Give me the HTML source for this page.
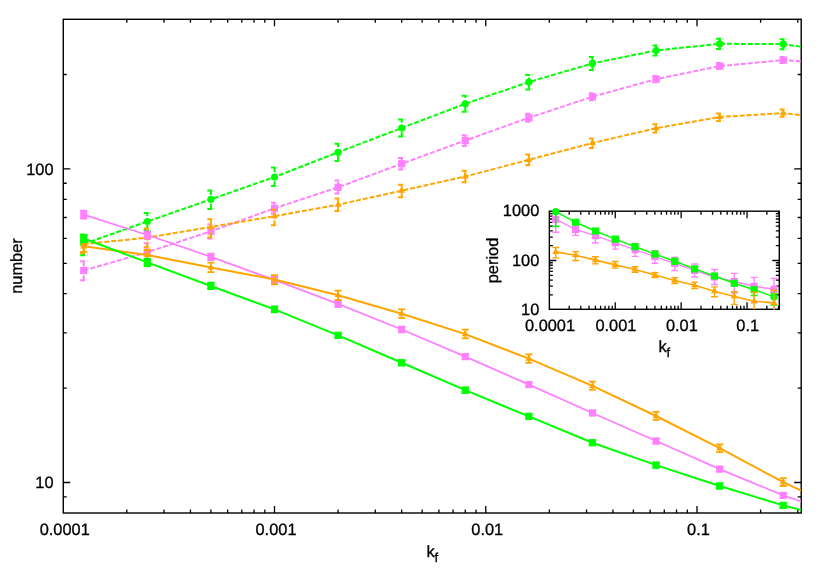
<!DOCTYPE html>
<html><head><meta charset="utf-8"><title>plot</title>
<style>html,body{margin:0;padding:0;background:#fff;}body{width:830px;height:581px;position:relative;overflow:hidden;font-family:"Liberation Sans",sans-serif;}</style>
</head><body>
<svg width="830" height="581" viewBox="0 0 830 581" style="position:absolute;left:0;top:0">
<defs><clipPath id="cm"><rect x="63.25" y="19.30" width="737.95" height="493.70"/></clipPath>
<clipPath id="ci"><rect x="549.35" y="211.2" width="230.05" height="98.2"/></clipPath></defs>
<rect width="830" height="581" fill="#fff"/>
<path d="M126.84 513.00v-3.50M126.84 19.30v3.50M164.04 513.00v-3.50M164.04 19.30v3.50M190.44 513.00v-3.50M190.44 19.30v3.50M210.91 513.00v-3.50M210.91 19.30v3.50M227.63 513.00v-3.50M227.63 19.30v3.50M241.78 513.00v-3.50M241.78 19.30v3.50M254.03 513.00v-3.50M254.03 19.30v3.50M264.83 513.00v-3.50M264.83 19.30v3.50M274.50 513.00v-7.00M274.50 19.30v7.00M338.09 513.00v-3.50M338.09 19.30v3.50M375.29 513.00v-3.50M375.29 19.30v3.50M401.69 513.00v-3.50M401.69 19.30v3.50M422.16 513.00v-3.50M422.16 19.30v3.50M438.88 513.00v-3.50M438.88 19.30v3.50M453.03 513.00v-3.50M453.03 19.30v3.50M465.28 513.00v-3.50M465.28 19.30v3.50M476.08 513.00v-3.50M476.08 19.30v3.50M485.75 513.00v-7.00M485.75 19.30v7.00M549.34 513.00v-3.50M549.34 19.30v3.50M586.54 513.00v-3.50M586.54 19.30v3.50M612.94 513.00v-3.50M612.94 19.30v3.50M633.41 513.00v-3.50M633.41 19.30v3.50M650.13 513.00v-3.50M650.13 19.30v3.50M664.28 513.00v-3.50M664.28 19.30v3.50M676.53 513.00v-3.50M676.53 19.30v3.50M687.33 513.00v-3.50M687.33 19.30v3.50M697.00 513.00v-7.00M697.00 19.30v7.00M760.59 513.00v-3.50M760.59 19.30v3.50M797.79 513.00v-3.50M797.79 19.30v3.50M63.25 496.85h3.50M801.20 496.85h-3.50M63.25 482.50h7.00M801.20 482.50h-7.00M63.25 388.10h3.50M801.20 388.10h-3.50M63.25 332.87h3.50M801.20 332.87h-3.50M63.25 293.69h3.50M801.20 293.69h-3.50M63.25 263.30h3.50M801.20 263.30h-3.50M63.25 238.47h3.50M801.20 238.47h-3.50M63.25 217.48h3.50M801.20 217.48h-3.50M63.25 199.29h3.50M801.20 199.29h-3.50M63.25 183.25h3.50M801.20 183.25h-3.50M63.25 168.90h7.00M801.20 168.90h-7.00M63.25 74.50h3.50M801.20 74.50h-3.50" stroke="#000" stroke-width="1.3" fill="none"/>
<rect x="63.25" y="19.30" width="737.95" height="493.70" fill="none" stroke="#000" stroke-width="1.4"/>
<g clip-path="url(#cm)">
<polyline points="83.72,243.90 147.31,221.50 210.91,199.35 274.50,177.00 338.09,152.30 401.69,128.00 465.28,103.80 528.87,82.00 592.46,63.40 656.06,50.50 719.65,43.80 783.24,44.10 801.20,46.70" fill="none" stroke="#00ff00" stroke-width="2" stroke-dasharray="4.9 2"/>
<path d="M83.72 255.20V234.60" stroke="#00ff00" stroke-width="2" fill="none" stroke-dasharray="4.9 2"/>
<path d="M80.12 234.60H87.32" stroke="#00ff00" stroke-width="2" fill="none" stroke-dasharray="4.9 2"/>
<path d="M80.12 255.20H87.32" stroke="#00ff00" stroke-width="2" fill="none" stroke-dasharray="4.9 2"/>
<path d="M147.31 230.00V213.00" stroke="#00ff00" stroke-width="2" fill="none" stroke-dasharray="4.9 2"/>
<path d="M143.71 213.00H150.91" stroke="#00ff00" stroke-width="2" fill="none" stroke-dasharray="4.9 2"/>
<path d="M143.71 230.00H150.91" stroke="#00ff00" stroke-width="2" fill="none" stroke-dasharray="4.9 2"/>
<path d="M210.91 208.90V190.60" stroke="#00ff00" stroke-width="2" fill="none" stroke-dasharray="4.9 2"/>
<path d="M207.31 190.60H214.51" stroke="#00ff00" stroke-width="2" fill="none" stroke-dasharray="4.9 2"/>
<path d="M207.31 208.90H214.51" stroke="#00ff00" stroke-width="2" fill="none" stroke-dasharray="4.9 2"/>
<path d="M274.50 186.10V167.50" stroke="#00ff00" stroke-width="2" fill="none" stroke-dasharray="4.9 2"/>
<path d="M270.90 167.50H278.10" stroke="#00ff00" stroke-width="2" fill="none" stroke-dasharray="4.9 2"/>
<path d="M270.90 186.10H278.10" stroke="#00ff00" stroke-width="2" fill="none" stroke-dasharray="4.9 2"/>
<path d="M338.09 160.90V143.70" stroke="#00ff00" stroke-width="2" fill="none" stroke-dasharray="4.9 2"/>
<path d="M334.49 143.70H341.69" stroke="#00ff00" stroke-width="2" fill="none" stroke-dasharray="4.9 2"/>
<path d="M334.49 160.90H341.69" stroke="#00ff00" stroke-width="2" fill="none" stroke-dasharray="4.9 2"/>
<path d="M401.69 136.50V119.60" stroke="#00ff00" stroke-width="2" fill="none" stroke-dasharray="4.9 2"/>
<path d="M398.09 119.60H405.29" stroke="#00ff00" stroke-width="2" fill="none" stroke-dasharray="4.9 2"/>
<path d="M398.09 136.50H405.29" stroke="#00ff00" stroke-width="2" fill="none" stroke-dasharray="4.9 2"/>
<path d="M465.28 111.80V95.80" stroke="#00ff00" stroke-width="2" fill="none" stroke-dasharray="4.9 2"/>
<path d="M461.68 95.80H468.88" stroke="#00ff00" stroke-width="2" fill="none" stroke-dasharray="4.9 2"/>
<path d="M461.68 111.80H468.88" stroke="#00ff00" stroke-width="2" fill="none" stroke-dasharray="4.9 2"/>
<path d="M528.87 89.40V75.10" stroke="#00ff00" stroke-width="2" fill="none" stroke-dasharray="4.9 2"/>
<path d="M525.27 75.10H532.47" stroke="#00ff00" stroke-width="2" fill="none" stroke-dasharray="4.9 2"/>
<path d="M525.27 89.40H532.47" stroke="#00ff00" stroke-width="2" fill="none" stroke-dasharray="4.9 2"/>
<path d="M592.46 69.90V57.00" stroke="#00ff00" stroke-width="2" fill="none" stroke-dasharray="4.9 2"/>
<path d="M588.86 57.00H596.06" stroke="#00ff00" stroke-width="2" fill="none" stroke-dasharray="4.9 2"/>
<path d="M588.86 69.90H596.06" stroke="#00ff00" stroke-width="2" fill="none" stroke-dasharray="4.9 2"/>
<path d="M656.06 55.60V45.50" stroke="#00ff00" stroke-width="2" fill="none" stroke-dasharray="4.9 2"/>
<path d="M652.46 45.50H659.66" stroke="#00ff00" stroke-width="2" fill="none" stroke-dasharray="4.9 2"/>
<path d="M652.46 55.60H659.66" stroke="#00ff00" stroke-width="2" fill="none" stroke-dasharray="4.9 2"/>
<path d="M719.65 49.00V38.80" stroke="#00ff00" stroke-width="2" fill="none" stroke-dasharray="4.9 2"/>
<path d="M716.05 38.80H723.25" stroke="#00ff00" stroke-width="2" fill="none" stroke-dasharray="4.9 2"/>
<path d="M716.05 49.00H723.25" stroke="#00ff00" stroke-width="2" fill="none" stroke-dasharray="4.9 2"/>
<path d="M783.24 49.20V39.20" stroke="#00ff00" stroke-width="2" fill="none" stroke-dasharray="4.9 2"/>
<path d="M779.64 39.20H786.84" stroke="#00ff00" stroke-width="2" fill="none" stroke-dasharray="4.9 2"/>
<path d="M779.64 49.20H786.84" stroke="#00ff00" stroke-width="2" fill="none" stroke-dasharray="4.9 2"/>
<circle cx="83.72" cy="243.90" r="3.60" fill="#00ff00"/>
<circle cx="147.31" cy="221.50" r="3.60" fill="#00ff00"/>
<circle cx="210.91" cy="199.35" r="3.60" fill="#00ff00"/>
<circle cx="274.50" cy="177.00" r="3.60" fill="#00ff00"/>
<circle cx="338.09" cy="152.30" r="3.60" fill="#00ff00"/>
<circle cx="401.69" cy="128.00" r="3.60" fill="#00ff00"/>
<circle cx="465.28" cy="103.80" r="3.60" fill="#00ff00"/>
<circle cx="528.87" cy="82.00" r="3.60" fill="#00ff00"/>
<circle cx="592.46" cy="63.40" r="3.60" fill="#00ff00"/>
<circle cx="656.06" cy="50.50" r="3.60" fill="#00ff00"/>
<circle cx="719.65" cy="43.80" r="3.60" fill="#00ff00"/>
<circle cx="783.24" cy="44.10" r="3.60" fill="#00ff00"/>
<polyline points="83.72,270.50 147.31,252.20 210.91,231.30 274.50,208.30 338.09,187.30 401.69,163.70 465.28,140.50 528.87,117.75 592.46,96.75 656.06,79.10 719.65,66.10 783.24,60.10 801.20,61.30" fill="none" stroke="#ff80ff" stroke-width="2" stroke-dasharray="4.9 2"/>
<path d="M83.72 280.30V261.20" stroke="#ff80ff" stroke-width="2" fill="none" stroke-dasharray="4.9 2"/>
<path d="M80.12 261.20H87.32" stroke="#ff80ff" stroke-width="2" fill="none" stroke-dasharray="4.9 2"/>
<path d="M80.12 280.30H87.32" stroke="#ff80ff" stroke-width="2" fill="none" stroke-dasharray="4.9 2"/>
<path d="M147.31 260.40V243.20" stroke="#ff80ff" stroke-width="2" fill="none" stroke-dasharray="4.9 2"/>
<path d="M143.71 243.20H150.91" stroke="#ff80ff" stroke-width="2" fill="none" stroke-dasharray="4.9 2"/>
<path d="M143.71 260.40H150.91" stroke="#ff80ff" stroke-width="2" fill="none" stroke-dasharray="4.9 2"/>
<path d="M210.91 238.50V224.50" stroke="#ff80ff" stroke-width="2" fill="none" stroke-dasharray="4.9 2"/>
<path d="M207.31 224.50H214.51" stroke="#ff80ff" stroke-width="2" fill="none" stroke-dasharray="4.9 2"/>
<path d="M207.31 238.50H214.51" stroke="#ff80ff" stroke-width="2" fill="none" stroke-dasharray="4.9 2"/>
<path d="M274.50 213.50V202.80" stroke="#ff80ff" stroke-width="2" fill="none" stroke-dasharray="4.9 2"/>
<path d="M270.90 202.80H278.10" stroke="#ff80ff" stroke-width="2" fill="none" stroke-dasharray="4.9 2"/>
<path d="M270.90 213.50H278.10" stroke="#ff80ff" stroke-width="2" fill="none" stroke-dasharray="4.9 2"/>
<path d="M338.09 193.50V180.60" stroke="#ff80ff" stroke-width="2" fill="none" stroke-dasharray="4.9 2"/>
<path d="M334.49 180.60H341.69" stroke="#ff80ff" stroke-width="2" fill="none" stroke-dasharray="4.9 2"/>
<path d="M334.49 193.50H341.69" stroke="#ff80ff" stroke-width="2" fill="none" stroke-dasharray="4.9 2"/>
<path d="M401.69 169.40V158.00" stroke="#ff80ff" stroke-width="2" fill="none" stroke-dasharray="4.9 2"/>
<path d="M398.09 158.00H405.29" stroke="#ff80ff" stroke-width="2" fill="none" stroke-dasharray="4.9 2"/>
<path d="M398.09 169.40H405.29" stroke="#ff80ff" stroke-width="2" fill="none" stroke-dasharray="4.9 2"/>
<path d="M465.28 145.90V135.30" stroke="#ff80ff" stroke-width="2" fill="none" stroke-dasharray="4.9 2"/>
<path d="M461.68 135.30H468.88" stroke="#ff80ff" stroke-width="2" fill="none" stroke-dasharray="4.9 2"/>
<path d="M461.68 145.90H468.88" stroke="#ff80ff" stroke-width="2" fill="none" stroke-dasharray="4.9 2"/>
<path d="M528.87 121.75V113.75" stroke="#ff80ff" stroke-width="2" fill="none" stroke-dasharray="4.9 2"/>
<path d="M525.27 113.75H532.47" stroke="#ff80ff" stroke-width="2" fill="none" stroke-dasharray="4.9 2"/>
<path d="M525.27 121.75H532.47" stroke="#ff80ff" stroke-width="2" fill="none" stroke-dasharray="4.9 2"/>
<path d="M592.46 100.35V93.15" stroke="#ff80ff" stroke-width="2" fill="none" stroke-dasharray="4.9 2"/>
<path d="M588.86 93.15H596.06" stroke="#ff80ff" stroke-width="2" fill="none" stroke-dasharray="4.9 2"/>
<path d="M588.86 100.35H596.06" stroke="#ff80ff" stroke-width="2" fill="none" stroke-dasharray="4.9 2"/>
<path d="M656.06 82.30V75.90" stroke="#ff80ff" stroke-width="2" fill="none" stroke-dasharray="4.9 2"/>
<path d="M652.46 75.90H659.66" stroke="#ff80ff" stroke-width="2" fill="none" stroke-dasharray="4.9 2"/>
<path d="M652.46 82.30H659.66" stroke="#ff80ff" stroke-width="2" fill="none" stroke-dasharray="4.9 2"/>
<path d="M719.65 69.10V63.10" stroke="#ff80ff" stroke-width="2" fill="none" stroke-dasharray="4.9 2"/>
<path d="M716.05 63.10H723.25" stroke="#ff80ff" stroke-width="2" fill="none" stroke-dasharray="4.9 2"/>
<path d="M716.05 69.10H723.25" stroke="#ff80ff" stroke-width="2" fill="none" stroke-dasharray="4.9 2"/>
<path d="M783.24 63.10V57.10" stroke="#ff80ff" stroke-width="2" fill="none" stroke-dasharray="4.9 2"/>
<path d="M779.64 57.10H786.84" stroke="#ff80ff" stroke-width="2" fill="none" stroke-dasharray="4.9 2"/>
<path d="M779.64 63.10H786.84" stroke="#ff80ff" stroke-width="2" fill="none" stroke-dasharray="4.9 2"/>
<rect x="80.12" y="266.90" width="7.20" height="7.20" fill="#ff80ff"/>
<rect x="143.71" y="248.60" width="7.20" height="7.20" fill="#ff80ff"/>
<rect x="207.31" y="227.70" width="7.20" height="7.20" fill="#ff80ff"/>
<rect x="270.90" y="204.70" width="7.20" height="7.20" fill="#ff80ff"/>
<rect x="334.49" y="183.70" width="7.20" height="7.20" fill="#ff80ff"/>
<rect x="398.09" y="160.10" width="7.20" height="7.20" fill="#ff80ff"/>
<rect x="461.68" y="136.90" width="7.20" height="7.20" fill="#ff80ff"/>
<rect x="525.27" y="114.15" width="7.20" height="7.20" fill="#ff80ff"/>
<rect x="588.86" y="93.15" width="7.20" height="7.20" fill="#ff80ff"/>
<rect x="652.46" y="75.50" width="7.20" height="7.20" fill="#ff80ff"/>
<rect x="716.05" y="62.50" width="7.20" height="7.20" fill="#ff80ff"/>
<rect x="779.64" y="56.50" width="7.20" height="7.20" fill="#ff80ff"/>
<polyline points="83.72,244.20 147.31,237.60 210.91,226.90 274.50,216.20 338.09,204.70 401.69,190.60 465.28,176.50 528.87,159.80 592.46,143.00 656.06,128.20 719.65,117.00 783.24,113.10 801.20,115.10" fill="none" stroke="#ffa500" stroke-width="2" stroke-dasharray="4.9 2"/>
<path d="M83.72 253.00V235.00" stroke="#ffa500" stroke-width="2" fill="none" stroke-dasharray="4.9 2"/>
<path d="M80.12 235.00H87.32" stroke="#ffa500" stroke-width="2" fill="none" stroke-dasharray="4.9 2"/>
<path d="M80.12 253.00H87.32" stroke="#ffa500" stroke-width="2" fill="none" stroke-dasharray="4.9 2"/>
<path d="M147.31 247.30V228.50" stroke="#ffa500" stroke-width="2" fill="none" stroke-dasharray="4.9 2"/>
<path d="M143.71 228.50H150.91" stroke="#ffa500" stroke-width="2" fill="none" stroke-dasharray="4.9 2"/>
<path d="M143.71 247.30H150.91" stroke="#ffa500" stroke-width="2" fill="none" stroke-dasharray="4.9 2"/>
<path d="M210.91 237.50V219.20" stroke="#ffa500" stroke-width="2" fill="none" stroke-dasharray="4.9 2"/>
<path d="M207.31 219.20H214.51" stroke="#ffa500" stroke-width="2" fill="none" stroke-dasharray="4.9 2"/>
<path d="M207.31 237.50H214.51" stroke="#ffa500" stroke-width="2" fill="none" stroke-dasharray="4.9 2"/>
<path d="M274.50 225.30V209.50" stroke="#ffa500" stroke-width="2" fill="none" stroke-dasharray="4.9 2"/>
<path d="M270.90 209.50H278.10" stroke="#ffa500" stroke-width="2" fill="none" stroke-dasharray="4.9 2"/>
<path d="M270.90 225.30H278.10" stroke="#ffa500" stroke-width="2" fill="none" stroke-dasharray="4.9 2"/>
<path d="M338.09 211.10V198.50" stroke="#ffa500" stroke-width="2" fill="none" stroke-dasharray="4.9 2"/>
<path d="M334.49 198.50H341.69" stroke="#ffa500" stroke-width="2" fill="none" stroke-dasharray="4.9 2"/>
<path d="M334.49 211.10H341.69" stroke="#ffa500" stroke-width="2" fill="none" stroke-dasharray="4.9 2"/>
<path d="M401.69 197.30V184.80" stroke="#ffa500" stroke-width="2" fill="none" stroke-dasharray="4.9 2"/>
<path d="M398.09 184.80H405.29" stroke="#ffa500" stroke-width="2" fill="none" stroke-dasharray="4.9 2"/>
<path d="M398.09 197.30H405.29" stroke="#ffa500" stroke-width="2" fill="none" stroke-dasharray="4.9 2"/>
<path d="M465.28 182.30V170.70" stroke="#ffa500" stroke-width="2" fill="none" stroke-dasharray="4.9 2"/>
<path d="M461.68 170.70H468.88" stroke="#ffa500" stroke-width="2" fill="none" stroke-dasharray="4.9 2"/>
<path d="M461.68 182.30H468.88" stroke="#ffa500" stroke-width="2" fill="none" stroke-dasharray="4.9 2"/>
<path d="M528.87 165.20V154.60" stroke="#ffa500" stroke-width="2" fill="none" stroke-dasharray="4.9 2"/>
<path d="M525.27 154.60H532.47" stroke="#ffa500" stroke-width="2" fill="none" stroke-dasharray="4.9 2"/>
<path d="M525.27 165.20H532.47" stroke="#ffa500" stroke-width="2" fill="none" stroke-dasharray="4.9 2"/>
<path d="M592.46 147.90V138.40" stroke="#ffa500" stroke-width="2" fill="none" stroke-dasharray="4.9 2"/>
<path d="M588.86 138.40H596.06" stroke="#ffa500" stroke-width="2" fill="none" stroke-dasharray="4.9 2"/>
<path d="M588.86 147.90H596.06" stroke="#ffa500" stroke-width="2" fill="none" stroke-dasharray="4.9 2"/>
<path d="M656.06 132.40V124.30" stroke="#ffa500" stroke-width="2" fill="none" stroke-dasharray="4.9 2"/>
<path d="M652.46 124.30H659.66" stroke="#ffa500" stroke-width="2" fill="none" stroke-dasharray="4.9 2"/>
<path d="M652.46 132.40H659.66" stroke="#ffa500" stroke-width="2" fill="none" stroke-dasharray="4.9 2"/>
<path d="M719.65 121.10V113.40" stroke="#ffa500" stroke-width="2" fill="none" stroke-dasharray="4.9 2"/>
<path d="M716.05 113.40H723.25" stroke="#ffa500" stroke-width="2" fill="none" stroke-dasharray="4.9 2"/>
<path d="M716.05 121.10H723.25" stroke="#ffa500" stroke-width="2" fill="none" stroke-dasharray="4.9 2"/>
<path d="M783.24 116.80V109.60" stroke="#ffa500" stroke-width="2" fill="none" stroke-dasharray="4.9 2"/>
<path d="M779.64 109.60H786.84" stroke="#ffa500" stroke-width="2" fill="none" stroke-dasharray="4.9 2"/>
<path d="M779.64 116.80H786.84" stroke="#ffa500" stroke-width="2" fill="none" stroke-dasharray="4.9 2"/>
<path d="M83.72 240.20L87.22 246.30L80.22 246.30Z" fill="#ffa500"/>
<path d="M147.31 233.60L150.81 239.70L143.81 239.70Z" fill="#ffa500"/>
<path d="M210.91 222.90L214.41 229.00L207.41 229.00Z" fill="#ffa500"/>
<path d="M274.50 212.20L278.00 218.30L271.00 218.30Z" fill="#ffa500"/>
<path d="M338.09 200.70L341.59 206.80L334.59 206.80Z" fill="#ffa500"/>
<path d="M401.69 186.60L405.19 192.70L398.19 192.70Z" fill="#ffa500"/>
<path d="M465.28 172.50L468.78 178.60L461.78 178.60Z" fill="#ffa500"/>
<path d="M528.87 155.80L532.37 161.90L525.37 161.90Z" fill="#ffa500"/>
<path d="M592.46 139.00L595.96 145.10L588.96 145.10Z" fill="#ffa500"/>
<path d="M656.06 124.20L659.56 130.30L652.56 130.30Z" fill="#ffa500"/>
<path d="M719.65 113.00L723.15 119.10L716.15 119.10Z" fill="#ffa500"/>
<path d="M783.24 109.10L786.74 115.20L779.74 115.20Z" fill="#ffa500"/>
<polyline points="83.72,214.60 147.31,235.00 210.91,256.80 274.50,279.90 338.09,303.90 401.69,329.50 465.28,356.60 528.87,384.60 592.46,413.00 656.06,441.05 719.65,469.10 783.24,495.40 801.20,501.50" fill="none" stroke="#ff80ff" stroke-width="1.8"/>
<path d="M83.72 218.60V210.60" stroke="#ff80ff" stroke-width="1.6" fill="none"/>
<path d="M80.12 210.60H87.32" stroke="#ff80ff" stroke-width="1.6" fill="none"/>
<path d="M80.12 218.60H87.32" stroke="#ff80ff" stroke-width="1.6" fill="none"/>
<path d="M147.31 238.70V231.30" stroke="#ff80ff" stroke-width="1.6" fill="none"/>
<path d="M143.71 231.30H150.91" stroke="#ff80ff" stroke-width="1.6" fill="none"/>
<path d="M143.71 238.70H150.91" stroke="#ff80ff" stroke-width="1.6" fill="none"/>
<path d="M210.91 260.15V253.45" stroke="#ff80ff" stroke-width="1.6" fill="none"/>
<path d="M207.31 253.45H214.51" stroke="#ff80ff" stroke-width="1.6" fill="none"/>
<path d="M207.31 260.15H214.51" stroke="#ff80ff" stroke-width="1.6" fill="none"/>
<path d="M274.50 283.10V276.70" stroke="#ff80ff" stroke-width="1.6" fill="none"/>
<path d="M270.90 276.70H278.10" stroke="#ff80ff" stroke-width="1.6" fill="none"/>
<path d="M270.90 283.10H278.10" stroke="#ff80ff" stroke-width="1.6" fill="none"/>
<path d="M338.09 307.10V300.70" stroke="#ff80ff" stroke-width="1.6" fill="none"/>
<path d="M334.49 300.70H341.69" stroke="#ff80ff" stroke-width="1.6" fill="none"/>
<path d="M334.49 307.10H341.69" stroke="#ff80ff" stroke-width="1.6" fill="none"/>
<path d="M401.69 332.50V326.50" stroke="#ff80ff" stroke-width="1.6" fill="none"/>
<path d="M398.09 326.50H405.29" stroke="#ff80ff" stroke-width="1.6" fill="none"/>
<path d="M398.09 332.50H405.29" stroke="#ff80ff" stroke-width="1.6" fill="none"/>
<path d="M465.28 359.40V353.80" stroke="#ff80ff" stroke-width="1.6" fill="none"/>
<path d="M461.68 353.80H468.88" stroke="#ff80ff" stroke-width="1.6" fill="none"/>
<path d="M461.68 359.40H468.88" stroke="#ff80ff" stroke-width="1.6" fill="none"/>
<path d="M528.87 387.20V382.00" stroke="#ff80ff" stroke-width="1.6" fill="none"/>
<path d="M525.27 382.00H532.47" stroke="#ff80ff" stroke-width="1.6" fill="none"/>
<path d="M525.27 387.20H532.47" stroke="#ff80ff" stroke-width="1.6" fill="none"/>
<path d="M592.46 415.60V410.40" stroke="#ff80ff" stroke-width="1.6" fill="none"/>
<path d="M588.86 410.40H596.06" stroke="#ff80ff" stroke-width="1.6" fill="none"/>
<path d="M588.86 415.60H596.06" stroke="#ff80ff" stroke-width="1.6" fill="none"/>
<path d="M656.06 443.65V438.45" stroke="#ff80ff" stroke-width="1.6" fill="none"/>
<path d="M652.46 438.45H659.66" stroke="#ff80ff" stroke-width="1.6" fill="none"/>
<path d="M652.46 443.65H659.66" stroke="#ff80ff" stroke-width="1.6" fill="none"/>
<path d="M719.65 471.70V466.50" stroke="#ff80ff" stroke-width="1.6" fill="none"/>
<path d="M716.05 466.50H723.25" stroke="#ff80ff" stroke-width="1.6" fill="none"/>
<path d="M716.05 471.70H723.25" stroke="#ff80ff" stroke-width="1.6" fill="none"/>
<path d="M783.24 498.00V492.80" stroke="#ff80ff" stroke-width="1.6" fill="none"/>
<path d="M779.64 492.80H786.84" stroke="#ff80ff" stroke-width="1.6" fill="none"/>
<path d="M779.64 498.00H786.84" stroke="#ff80ff" stroke-width="1.6" fill="none"/>
<rect x="80.22" y="211.10" width="7.00" height="7.00" fill="#ff80ff"/>
<rect x="143.81" y="231.50" width="7.00" height="7.00" fill="#ff80ff"/>
<rect x="207.41" y="253.30" width="7.00" height="7.00" fill="#ff80ff"/>
<rect x="271.00" y="276.40" width="7.00" height="7.00" fill="#ff80ff"/>
<rect x="334.59" y="300.40" width="7.00" height="7.00" fill="#ff80ff"/>
<rect x="398.19" y="326.00" width="7.00" height="7.00" fill="#ff80ff"/>
<rect x="461.78" y="353.10" width="7.00" height="7.00" fill="#ff80ff"/>
<rect x="525.37" y="381.10" width="7.00" height="7.00" fill="#ff80ff"/>
<rect x="588.96" y="409.50" width="7.00" height="7.00" fill="#ff80ff"/>
<rect x="652.56" y="437.55" width="7.00" height="7.00" fill="#ff80ff"/>
<rect x="716.15" y="465.60" width="7.00" height="7.00" fill="#ff80ff"/>
<rect x="779.74" y="491.90" width="7.00" height="7.00" fill="#ff80ff"/>
<polyline points="83.72,246.30 147.31,255.00 210.91,267.40 274.50,279.50 338.09,295.20 401.69,313.70 465.28,334.10 528.87,358.60 592.46,385.80 656.06,416.00 719.65,448.20 783.24,482.20 801.20,490.60" fill="none" stroke="#ffa500" stroke-width="2"/>
<path d="M83.72 251.80V241.00" stroke="#ffa500" stroke-width="1.8" fill="none"/>
<path d="M80.22 241.00H87.22" stroke="#ffa500" stroke-width="1.8" fill="none"/>
<path d="M80.22 251.80H87.22" stroke="#ffa500" stroke-width="1.8" fill="none"/>
<path d="M147.31 260.00V250.00" stroke="#ffa500" stroke-width="1.8" fill="none"/>
<path d="M143.81 250.00H150.81" stroke="#ffa500" stroke-width="1.8" fill="none"/>
<path d="M143.81 260.00H150.81" stroke="#ffa500" stroke-width="1.8" fill="none"/>
<path d="M210.91 272.20V262.60" stroke="#ffa500" stroke-width="1.8" fill="none"/>
<path d="M207.41 262.60H214.41" stroke="#ffa500" stroke-width="1.8" fill="none"/>
<path d="M207.41 272.20H214.41" stroke="#ffa500" stroke-width="1.8" fill="none"/>
<path d="M274.50 284.30V275.10" stroke="#ffa500" stroke-width="1.8" fill="none"/>
<path d="M271.00 275.10H278.00" stroke="#ffa500" stroke-width="1.8" fill="none"/>
<path d="M271.00 284.30H278.00" stroke="#ffa500" stroke-width="1.8" fill="none"/>
<path d="M338.09 300.00V290.60" stroke="#ffa500" stroke-width="1.8" fill="none"/>
<path d="M334.59 290.60H341.59" stroke="#ffa500" stroke-width="1.8" fill="none"/>
<path d="M334.59 300.00H341.59" stroke="#ffa500" stroke-width="1.8" fill="none"/>
<path d="M401.69 318.00V309.30" stroke="#ffa500" stroke-width="1.8" fill="none"/>
<path d="M398.19 309.30H405.19" stroke="#ffa500" stroke-width="1.8" fill="none"/>
<path d="M398.19 318.00H405.19" stroke="#ffa500" stroke-width="1.8" fill="none"/>
<path d="M465.28 338.30V329.60" stroke="#ffa500" stroke-width="1.8" fill="none"/>
<path d="M461.78 329.60H468.78" stroke="#ffa500" stroke-width="1.8" fill="none"/>
<path d="M461.78 338.30H468.78" stroke="#ffa500" stroke-width="1.8" fill="none"/>
<path d="M528.87 362.80V354.30" stroke="#ffa500" stroke-width="1.8" fill="none"/>
<path d="M525.37 354.30H532.37" stroke="#ffa500" stroke-width="1.8" fill="none"/>
<path d="M525.37 362.80H532.37" stroke="#ffa500" stroke-width="1.8" fill="none"/>
<path d="M592.46 389.80V381.60" stroke="#ffa500" stroke-width="1.8" fill="none"/>
<path d="M588.96 381.60H595.96" stroke="#ffa500" stroke-width="1.8" fill="none"/>
<path d="M588.96 389.80H595.96" stroke="#ffa500" stroke-width="1.8" fill="none"/>
<path d="M656.06 419.90V411.80" stroke="#ffa500" stroke-width="1.8" fill="none"/>
<path d="M652.56 411.80H659.56" stroke="#ffa500" stroke-width="1.8" fill="none"/>
<path d="M652.56 419.90H659.56" stroke="#ffa500" stroke-width="1.8" fill="none"/>
<path d="M719.65 452.10V444.40" stroke="#ffa500" stroke-width="1.8" fill="none"/>
<path d="M716.15 444.40H723.15" stroke="#ffa500" stroke-width="1.8" fill="none"/>
<path d="M716.15 452.10H723.15" stroke="#ffa500" stroke-width="1.8" fill="none"/>
<path d="M783.24 486.00V478.20" stroke="#ffa500" stroke-width="1.8" fill="none"/>
<path d="M779.74 478.20H786.74" stroke="#ffa500" stroke-width="1.8" fill="none"/>
<path d="M779.74 486.00H786.74" stroke="#ffa500" stroke-width="1.8" fill="none"/>
<path d="M83.72 242.30L87.22 248.40L80.22 248.40Z" fill="#ffa500"/>
<path d="M147.31 251.00L150.81 257.10L143.81 257.10Z" fill="#ffa500"/>
<path d="M210.91 263.40L214.41 269.50L207.41 269.50Z" fill="#ffa500"/>
<path d="M274.50 275.50L278.00 281.60L271.00 281.60Z" fill="#ffa500"/>
<path d="M338.09 291.20L341.59 297.30L334.59 297.30Z" fill="#ffa500"/>
<path d="M401.69 309.70L405.19 315.80L398.19 315.80Z" fill="#ffa500"/>
<path d="M465.28 330.10L468.78 336.20L461.78 336.20Z" fill="#ffa500"/>
<path d="M528.87 354.60L532.37 360.70L525.37 360.70Z" fill="#ffa500"/>
<path d="M592.46 381.80L595.96 387.90L588.96 387.90Z" fill="#ffa500"/>
<path d="M656.06 412.00L659.56 418.10L652.56 418.10Z" fill="#ffa500"/>
<path d="M719.65 444.20L723.15 450.30L716.15 450.30Z" fill="#ffa500"/>
<path d="M783.24 478.20L786.74 484.30L779.74 484.30Z" fill="#ffa500"/>
<polyline points="83.72,238.50 147.31,262.40 210.91,285.95 274.50,309.40 338.09,335.40 401.69,362.75 465.28,390.20 528.87,416.40 592.46,442.70 656.06,465.15 719.65,486.00 783.24,505.40 801.20,510.10" fill="none" stroke="#00ff00" stroke-width="2"/>
<path d="M83.72 242.15V234.85" stroke="#00ff00" stroke-width="1.8" fill="none"/>
<path d="M80.12 234.85H87.32" stroke="#00ff00" stroke-width="1.8" fill="none"/>
<path d="M80.12 242.15H87.32" stroke="#00ff00" stroke-width="1.8" fill="none"/>
<path d="M147.31 266.05V258.75" stroke="#00ff00" stroke-width="1.8" fill="none"/>
<path d="M143.71 258.75H150.91" stroke="#00ff00" stroke-width="1.8" fill="none"/>
<path d="M143.71 266.05H150.91" stroke="#00ff00" stroke-width="1.8" fill="none"/>
<path d="M210.91 289.20V282.70" stroke="#00ff00" stroke-width="1.8" fill="none"/>
<path d="M207.31 282.70H214.51" stroke="#00ff00" stroke-width="1.8" fill="none"/>
<path d="M207.31 289.20H214.51" stroke="#00ff00" stroke-width="1.8" fill="none"/>
<path d="M274.50 312.35V306.45" stroke="#00ff00" stroke-width="1.8" fill="none"/>
<path d="M270.90 306.45H278.10" stroke="#00ff00" stroke-width="1.8" fill="none"/>
<path d="M270.90 312.35H278.10" stroke="#00ff00" stroke-width="1.8" fill="none"/>
<path d="M338.09 338.10V332.70" stroke="#00ff00" stroke-width="1.8" fill="none"/>
<path d="M334.49 332.70H341.69" stroke="#00ff00" stroke-width="1.8" fill="none"/>
<path d="M334.49 338.10H341.69" stroke="#00ff00" stroke-width="1.8" fill="none"/>
<path d="M401.69 365.35V360.15" stroke="#00ff00" stroke-width="1.8" fill="none"/>
<path d="M398.09 360.15H405.29" stroke="#00ff00" stroke-width="1.8" fill="none"/>
<path d="M398.09 365.35H405.29" stroke="#00ff00" stroke-width="1.8" fill="none"/>
<path d="M465.28 392.80V387.60" stroke="#00ff00" stroke-width="1.8" fill="none"/>
<path d="M461.68 387.60H468.88" stroke="#00ff00" stroke-width="1.8" fill="none"/>
<path d="M461.68 392.80H468.88" stroke="#00ff00" stroke-width="1.8" fill="none"/>
<path d="M528.87 419.00V413.80" stroke="#00ff00" stroke-width="1.8" fill="none"/>
<path d="M525.27 413.80H532.47" stroke="#00ff00" stroke-width="1.8" fill="none"/>
<path d="M525.27 419.00H532.47" stroke="#00ff00" stroke-width="1.8" fill="none"/>
<path d="M592.46 445.30V440.10" stroke="#00ff00" stroke-width="1.8" fill="none"/>
<path d="M588.86 440.10H596.06" stroke="#00ff00" stroke-width="1.8" fill="none"/>
<path d="M588.86 445.30H596.06" stroke="#00ff00" stroke-width="1.8" fill="none"/>
<path d="M656.06 467.75V462.55" stroke="#00ff00" stroke-width="1.8" fill="none"/>
<path d="M652.46 462.55H659.66" stroke="#00ff00" stroke-width="1.8" fill="none"/>
<path d="M652.46 467.75H659.66" stroke="#00ff00" stroke-width="1.8" fill="none"/>
<path d="M719.65 488.60V483.40" stroke="#00ff00" stroke-width="1.8" fill="none"/>
<path d="M716.05 483.40H723.25" stroke="#00ff00" stroke-width="1.8" fill="none"/>
<path d="M716.05 488.60H723.25" stroke="#00ff00" stroke-width="1.8" fill="none"/>
<path d="M783.24 508.00V502.80" stroke="#00ff00" stroke-width="1.8" fill="none"/>
<path d="M779.64 502.80H786.84" stroke="#00ff00" stroke-width="1.8" fill="none"/>
<path d="M779.64 508.00H786.84" stroke="#00ff00" stroke-width="1.8" fill="none"/>
<rect x="80.12" y="234.90" width="7.20" height="7.20" fill="#00ff00"/>
<rect x="143.71" y="258.80" width="7.20" height="7.20" fill="#00ff00"/>
<rect x="207.31" y="282.35" width="7.20" height="7.20" fill="#00ff00"/>
<rect x="270.90" y="305.80" width="7.20" height="7.20" fill="#00ff00"/>
<rect x="334.49" y="331.80" width="7.20" height="7.20" fill="#00ff00"/>
<rect x="398.09" y="359.15" width="7.20" height="7.20" fill="#00ff00"/>
<rect x="461.68" y="386.60" width="7.20" height="7.20" fill="#00ff00"/>
<rect x="525.27" y="412.80" width="7.20" height="7.20" fill="#00ff00"/>
<rect x="588.86" y="439.10" width="7.20" height="7.20" fill="#00ff00"/>
<rect x="652.46" y="461.55" width="7.20" height="7.20" fill="#00ff00"/>
<rect x="716.05" y="482.40" width="7.20" height="7.20" fill="#00ff00"/>
<rect x="779.64" y="501.80" width="7.20" height="7.20" fill="#00ff00"/>
</g>
<path d="M569.19 309.30v-3.50M569.19 211.20v3.50M580.79 309.30v-3.50M580.79 211.20v3.50M589.03 309.30v-3.50M589.03 211.20v3.50M595.41 309.30v-3.50M595.41 211.20v3.50M600.63 309.30v-3.50M600.63 211.20v3.50M605.04 309.30v-3.50M605.04 211.20v3.50M608.86 309.30v-3.50M608.86 211.20v3.50M612.23 309.30v-3.50M612.23 211.20v3.50M615.25 309.30v-7.00M615.25 211.20v7.00M635.09 309.30v-3.50M635.09 211.20v3.50M646.69 309.30v-3.50M646.69 211.20v3.50M654.93 309.30v-3.50M654.93 211.20v3.50M661.31 309.30v-3.50M661.31 211.20v3.50M666.53 309.30v-3.50M666.53 211.20v3.50M670.94 309.30v-3.50M670.94 211.20v3.50M674.76 309.30v-3.50M674.76 211.20v3.50M678.13 309.30v-3.50M678.13 211.20v3.50M681.15 309.30v-7.00M681.15 211.20v7.00M700.99 309.30v-3.50M700.99 211.20v3.50M712.59 309.30v-3.50M712.59 211.20v3.50M720.83 309.30v-3.50M720.83 211.20v3.50M727.21 309.30v-3.50M727.21 211.20v3.50M732.43 309.30v-3.50M732.43 211.20v3.50M736.84 309.30v-3.50M736.84 211.20v3.50M740.66 309.30v-3.50M740.66 211.20v3.50M744.03 309.30v-3.50M744.03 211.20v3.50M747.05 309.30v-7.00M747.05 211.20v7.00M766.89 309.30v-3.50M766.89 211.20v3.50M778.49 309.30v-3.50M778.49 211.20v3.50M549.35 294.82h3.50M779.30 294.82h-3.50M549.35 286.17h3.50M779.30 286.17h-3.50M549.35 280.04h3.50M779.30 280.04h-3.50M549.35 275.28h3.50M779.30 275.28h-3.50M549.35 271.39h3.50M779.30 271.39h-3.50M549.35 268.11h3.50M779.30 268.11h-3.50M549.35 265.26h3.50M779.30 265.26h-3.50M549.35 262.75h3.50M779.30 262.75h-3.50M549.35 260.50h7.00M779.30 260.50h-7.00M549.35 245.72h3.50M779.30 245.72h-3.50M549.35 237.07h3.50M779.30 237.07h-3.50M549.35 230.94h3.50M779.30 230.94h-3.50M549.35 226.18h3.50M779.30 226.18h-3.50M549.35 222.29h3.50M779.30 222.29h-3.50M549.35 219.01h3.50M779.30 219.01h-3.50M549.35 216.16h3.50M779.30 216.16h-3.50M549.35 213.65h3.50M779.30 213.65h-3.50" stroke="#000" stroke-width="1.3" fill="none"/>
<rect x="549.35" y="211.20" width="229.95" height="98.10" fill="none" stroke="#000" stroke-width="1.4"/>
<polyline points="555.74,219.40 575.57,229.40 595.41,235.70 615.25,242.80 635.09,249.70 654.93,256.60 674.76,263.30 694.60,270.40 714.44,277.00 734.28,281.50 754.12,286.30 773.95,289.30" fill="none" stroke="#ff80ff" stroke-width="1.4"/>
<g clip-path="url(#ci)">
<path d="M555.74 232.20V206.60" stroke="#ff80ff" stroke-width="1.35" fill="none"/>
<path d="M552.34 232.20H559.14" stroke="#ff80ff" stroke-width="1.35" fill="none"/>
<path d="M575.57 235.30V223.50" stroke="#ff80ff" stroke-width="1.35" fill="none"/>
<path d="M572.17 223.50H578.97" stroke="#ff80ff" stroke-width="1.35" fill="none"/>
<path d="M572.17 235.30H578.97" stroke="#ff80ff" stroke-width="1.35" fill="none"/>
<path d="M595.41 243.00V229.00" stroke="#ff80ff" stroke-width="1.35" fill="none"/>
<path d="M592.01 229.00H598.81" stroke="#ff80ff" stroke-width="1.35" fill="none"/>
<path d="M592.01 243.00H598.81" stroke="#ff80ff" stroke-width="1.35" fill="none"/>
<path d="M615.25 249.10V237.00" stroke="#ff80ff" stroke-width="1.35" fill="none"/>
<path d="M611.85 237.00H618.65" stroke="#ff80ff" stroke-width="1.35" fill="none"/>
<path d="M611.85 249.10H618.65" stroke="#ff80ff" stroke-width="1.35" fill="none"/>
<path d="M635.09 256.40V243.50" stroke="#ff80ff" stroke-width="1.35" fill="none"/>
<path d="M631.69 243.50H638.49" stroke="#ff80ff" stroke-width="1.35" fill="none"/>
<path d="M631.69 256.40H638.49" stroke="#ff80ff" stroke-width="1.35" fill="none"/>
<path d="M654.93 263.20V250.70" stroke="#ff80ff" stroke-width="1.35" fill="none"/>
<path d="M651.53 250.70H658.33" stroke="#ff80ff" stroke-width="1.35" fill="none"/>
<path d="M651.53 263.20H658.33" stroke="#ff80ff" stroke-width="1.35" fill="none"/>
<path d="M674.76 270.50V257.30" stroke="#ff80ff" stroke-width="1.35" fill="none"/>
<path d="M671.36 257.30H678.16" stroke="#ff80ff" stroke-width="1.35" fill="none"/>
<path d="M671.36 270.50H678.16" stroke="#ff80ff" stroke-width="1.35" fill="none"/>
<path d="M694.60 277.00V264.00" stroke="#ff80ff" stroke-width="1.35" fill="none"/>
<path d="M691.20 264.00H698.00" stroke="#ff80ff" stroke-width="1.35" fill="none"/>
<path d="M691.20 277.00H698.00" stroke="#ff80ff" stroke-width="1.35" fill="none"/>
<path d="M714.44 284.50V269.50" stroke="#ff80ff" stroke-width="1.35" fill="none"/>
<path d="M711.04 269.50H717.84" stroke="#ff80ff" stroke-width="1.35" fill="none"/>
<path d="M711.04 284.50H717.84" stroke="#ff80ff" stroke-width="1.35" fill="none"/>
<path d="M734.28 293.00V273.40" stroke="#ff80ff" stroke-width="1.35" fill="none"/>
<path d="M730.88 273.40H737.68" stroke="#ff80ff" stroke-width="1.35" fill="none"/>
<path d="M730.88 293.00H737.68" stroke="#ff80ff" stroke-width="1.35" fill="none"/>
<path d="M754.12 302.70V277.30" stroke="#ff80ff" stroke-width="1.35" fill="none"/>
<path d="M750.72 277.30H757.52" stroke="#ff80ff" stroke-width="1.35" fill="none"/>
<path d="M750.72 302.70H757.52" stroke="#ff80ff" stroke-width="1.35" fill="none"/>
<path d="M773.95 320.00V278.40" stroke="#ff80ff" stroke-width="1.35" fill="none"/>
<path d="M770.55 278.40H777.35" stroke="#ff80ff" stroke-width="1.35" fill="none"/>
</g>
<rect x="552.14" y="215.80" width="7.20" height="7.20" fill="#ff80ff"/>
<rect x="571.97" y="225.80" width="7.20" height="7.20" fill="#ff80ff"/>
<rect x="591.81" y="232.10" width="7.20" height="7.20" fill="#ff80ff"/>
<rect x="611.65" y="239.20" width="7.20" height="7.20" fill="#ff80ff"/>
<rect x="631.49" y="246.10" width="7.20" height="7.20" fill="#ff80ff"/>
<rect x="651.33" y="253.00" width="7.20" height="7.20" fill="#ff80ff"/>
<rect x="671.16" y="259.70" width="7.20" height="7.20" fill="#ff80ff"/>
<rect x="691.00" y="266.80" width="7.20" height="7.20" fill="#ff80ff"/>
<rect x="710.84" y="273.40" width="7.20" height="7.20" fill="#ff80ff"/>
<rect x="730.68" y="277.90" width="7.20" height="7.20" fill="#ff80ff"/>
<rect x="750.52" y="282.70" width="7.20" height="7.20" fill="#ff80ff"/>
<rect x="770.35" y="285.70" width="7.20" height="7.20" fill="#ff80ff"/>
<polyline points="555.74,211.70 575.57,222.30 595.41,231.00 615.25,239.10 635.09,246.70 654.93,254.10 674.76,261.30 694.60,268.90 714.44,276.00 734.28,283.30 754.12,289.70 773.95,296.90" fill="none" stroke="#00ff00" stroke-width="1.5"/>
<g clip-path="url(#ci)">
<path d="M555.74 226.60V211.70" stroke="#00ff00" stroke-width="1.5" fill="none"/>
<path d="M552.34 226.60H559.14" stroke="#00ff00" stroke-width="1.5" fill="none"/>
<path d="M754.12 295.40V287.00" stroke="#00ff00" stroke-width="1.5" fill="none"/>
<path d="M750.72 287.00H757.52" stroke="#00ff00" stroke-width="1.5" fill="none"/>
<path d="M750.72 295.40H757.52" stroke="#00ff00" stroke-width="1.5" fill="none"/>
<path d="M773.95 305.00V293.50" stroke="#00ff00" stroke-width="1.5" fill="none"/>
<path d="M770.55 293.50H777.35" stroke="#00ff00" stroke-width="1.5" fill="none"/>
<path d="M770.55 305.00H777.35" stroke="#00ff00" stroke-width="1.5" fill="none"/>
</g>
<circle cx="555.74" cy="211.70" r="3.60" fill="#00ff00"/>
<rect x="571.97" y="218.70" width="7.20" height="7.20" fill="#00ff00"/>
<rect x="591.81" y="227.40" width="7.20" height="7.20" fill="#00ff00"/>
<rect x="611.65" y="235.50" width="7.20" height="7.20" fill="#00ff00"/>
<rect x="631.49" y="243.10" width="7.20" height="7.20" fill="#00ff00"/>
<rect x="651.33" y="250.50" width="7.20" height="7.20" fill="#00ff00"/>
<rect x="671.16" y="257.70" width="7.20" height="7.20" fill="#00ff00"/>
<rect x="691.00" y="265.30" width="7.20" height="7.20" fill="#00ff00"/>
<rect x="710.84" y="272.40" width="7.20" height="7.20" fill="#00ff00"/>
<rect x="730.68" y="279.70" width="7.20" height="7.20" fill="#00ff00"/>
<rect x="750.52" y="286.10" width="7.20" height="7.20" fill="#00ff00"/>
<circle cx="773.95" cy="296.90" r="3.60" fill="#00ff00"/>
<polyline points="555.74,251.90 575.57,255.20 595.41,260.10 615.25,264.90 635.09,269.50 654.93,275.10 674.76,280.50 694.60,285.20 714.44,291.20 734.28,296.40 754.12,301.20 773.95,302.90" fill="none" stroke="#ffa500" stroke-width="1.6"/>
<g clip-path="url(#ci)">
<path d="M555.74 257.90V247.50" stroke="#ffa500" stroke-width="1.4" fill="none"/>
<path d="M552.34 247.50H559.14" stroke="#ffa500" stroke-width="1.4" fill="none"/>
<path d="M552.34 257.90H559.14" stroke="#ffa500" stroke-width="1.4" fill="none"/>
<path d="M575.57 260.50V251.60" stroke="#ffa500" stroke-width="1.4" fill="none"/>
<path d="M572.17 251.60H578.97" stroke="#ffa500" stroke-width="1.4" fill="none"/>
<path d="M572.17 260.50H578.97" stroke="#ffa500" stroke-width="1.4" fill="none"/>
<path d="M595.41 263.90V256.70" stroke="#ffa500" stroke-width="1.4" fill="none"/>
<path d="M592.01 256.70H598.81" stroke="#ffa500" stroke-width="1.4" fill="none"/>
<path d="M592.01 263.90H598.81" stroke="#ffa500" stroke-width="1.4" fill="none"/>
<path d="M615.25 268.10V261.50" stroke="#ffa500" stroke-width="1.4" fill="none"/>
<path d="M611.85 261.50H618.65" stroke="#ffa500" stroke-width="1.4" fill="none"/>
<path d="M611.85 268.10H618.65" stroke="#ffa500" stroke-width="1.4" fill="none"/>
<path d="M635.09 272.20V266.70" stroke="#ffa500" stroke-width="1.4" fill="none"/>
<path d="M631.69 266.70H638.49" stroke="#ffa500" stroke-width="1.4" fill="none"/>
<path d="M631.69 272.20H638.49" stroke="#ffa500" stroke-width="1.4" fill="none"/>
<path d="M654.93 277.60V272.70" stroke="#ffa500" stroke-width="1.4" fill="none"/>
<path d="M651.53 272.70H658.33" stroke="#ffa500" stroke-width="1.4" fill="none"/>
<path d="M651.53 277.60H658.33" stroke="#ffa500" stroke-width="1.4" fill="none"/>
<path d="M674.76 283.50V277.80" stroke="#ffa500" stroke-width="1.4" fill="none"/>
<path d="M671.36 277.80H678.16" stroke="#ffa500" stroke-width="1.4" fill="none"/>
<path d="M671.36 283.50H678.16" stroke="#ffa500" stroke-width="1.4" fill="none"/>
<path d="M694.60 288.50V282.10" stroke="#ffa500" stroke-width="1.4" fill="none"/>
<path d="M691.20 282.10H698.00" stroke="#ffa500" stroke-width="1.4" fill="none"/>
<path d="M691.20 288.50H698.00" stroke="#ffa500" stroke-width="1.4" fill="none"/>
<path d="M714.44 296.80V286.90" stroke="#ffa500" stroke-width="1.4" fill="none"/>
<path d="M711.04 286.90H717.84" stroke="#ffa500" stroke-width="1.4" fill="none"/>
<path d="M711.04 296.80H717.84" stroke="#ffa500" stroke-width="1.4" fill="none"/>
<path d="M734.28 304.40V291.70" stroke="#ffa500" stroke-width="1.4" fill="none"/>
<path d="M730.88 291.70H737.68" stroke="#ffa500" stroke-width="1.4" fill="none"/>
<path d="M730.88 304.40H737.68" stroke="#ffa500" stroke-width="1.4" fill="none"/>
<path d="M754.12 316.00V292.30" stroke="#ffa500" stroke-width="1.4" fill="none"/>
<path d="M750.72 292.30H757.52" stroke="#ffa500" stroke-width="1.4" fill="none"/>
<path d="M773.95 320.00V290.20" stroke="#ffa500" stroke-width="1.4" fill="none"/>
<path d="M770.55 290.20H777.35" stroke="#ffa500" stroke-width="1.4" fill="none"/>
</g>
<path d="M555.74 247.90L559.29 254.00L552.19 254.00Z" fill="#ffa500"/>
<path d="M575.57 251.20L579.12 257.30L572.02 257.30Z" fill="#ffa500"/>
<path d="M595.41 256.10L598.96 262.20L591.86 262.20Z" fill="#ffa500"/>
<path d="M615.25 260.90L618.80 267.00L611.70 267.00Z" fill="#ffa500"/>
<path d="M635.09 265.50L638.64 271.60L631.54 271.60Z" fill="#ffa500"/>
<path d="M654.93 271.10L658.48 277.20L651.38 277.20Z" fill="#ffa500"/>
<path d="M674.76 276.50L678.31 282.60L671.21 282.60Z" fill="#ffa500"/>
<path d="M694.60 281.20L698.15 287.30L691.05 287.30Z" fill="#ffa500"/>
<path d="M714.44 287.20L717.99 293.30L710.89 293.30Z" fill="#ffa500"/>
<path d="M734.28 292.40L737.83 298.50L730.73 298.50Z" fill="#ffa500"/>
<path d="M754.12 297.20L757.67 303.30L750.57 303.30Z" fill="#ffa500"/>
<path d="M773.95 298.90L777.50 305.00L770.40 305.00Z" fill="#ffa500"/>
<g font-family="Liberation Sans, sans-serif" font-size="16.4" fill="#000" stroke="#000" stroke-width="0.3" text-rendering="geometricPrecision" style="filter:grayscale(1)">
<text x="64.75" y="535" text-anchor="middle">0.0001</text>
<text x="550.05" y="331.2" text-anchor="middle">0.0001</text>
<text x="276.00" y="535" text-anchor="middle">0.001</text>
<text x="615.95" y="331.2" text-anchor="middle">0.001</text>
<text x="487.25" y="535" text-anchor="middle">0.01</text>
<text x="681.85" y="331.2" text-anchor="middle">0.01</text>
<text x="698.50" y="535" text-anchor="middle">0.1</text>
<text x="747.75" y="331.2" text-anchor="middle">0.1</text>
<text x="53.6" y="174.6" text-anchor="end">100</text>
<text x="53.6" y="488.2" text-anchor="end">10</text>
<text x="539.3" y="216.4" text-anchor="end">1000</text>
<text x="539.3" y="265.7" text-anchor="end">100</text>
<text x="539.3" y="314.9" text-anchor="end">10</text>
<text transform="translate(22.2 266) rotate(-90)" text-anchor="middle">number</text>
<text transform="translate(498.3 260.5) rotate(-90)" text-anchor="middle">period</text>
<text x="426.4" y="557.1">k<tspan font-size="13.1" dy="5.3">f</tspan></text>
<text x="658.4" y="351.6">k<tspan font-size="13.1" dy="5.3">f</tspan></text>
</g>
</svg>
</body></html>
